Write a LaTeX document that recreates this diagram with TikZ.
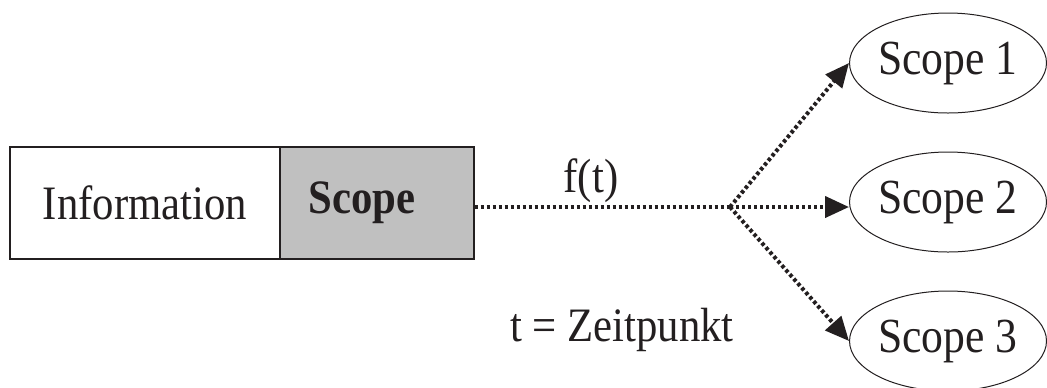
\documentclass[tikz,border=0pt]{standalone}
\usepackage{fontspec}
\setmainfont{Liberation Serif}[FakeStretch=0.89]
\usetikzlibrary{arrows.meta,shapes.geometric}
\definecolor{zpink}{HTML}{231F20}
\definecolor{zppage}{HTML}{FFFFFF}
\definecolor{zpscopefill}{HTML}{C0C0C0}
\tikzset{
  zpblock/.style={
    draw=zpink,
    line width=0.6pt,
    minimum height=56pt,
    inner sep=0pt,
    font=\fontsize{24}{28}\selectfont,
    text=zpink
  },
  zpinfo/.style={
    zpblock,
    fill=zppage,
    minimum width=135pt
  },
  zpscope/.style={
    zpblock,
    fill=zpscopefill,
    minimum width=97pt,
    font=\fontsize{24}{28}\selectfont\bfseries
  },
  zptarget/.style={
    ellipse,
    draw=zpink,
    line width=0.5pt,
    fill=zppage,
    minimum width=98pt,
    minimum height=50pt,
    inner sep=0pt,
    font=\fontsize{24.5}{28}\selectfont,
    text=zpink
  },
  zpedge/.style={
    line width=2pt,
    color=zpink,
    dash pattern=on 1.7pt off 1.3pt
  },
  zparrow/.style={
    zpedge,
    -{Triangle[length=12pt,width=10.5pt]}
  },
  zplabel/.style={
    font=\fontsize{24}{28}\selectfont,
    text=zpink
  }
}
\begin{document}
\begin{tikzpicture}[x=0.5pt,y=-0.5pt]
  \useasboundingbox (0,0) rectangle (1047,387);

  \node[zpinfo] (info) at (145,203) {Information};
  \node[zpscope] (scope) at (377,203) {\hspace*{-15pt}Scope};

  \node[zptarget] (scopea) at (948,63) {Scope 1};
  \node[zptarget] (scopeb) at (948,202) {Scope 2};
  \node[zptarget] (scopec) at (948,341) {Scope 3};

  \coordinate (split) at (730,207);

  \node[zplabel] (ft) at (591,181) {f(t)};
  \node[zplabel] (zeit) at (622,330) {t = Zeitpunkt};

  \draw[zpedge] (scope.east |- split) -- (split);
  \draw[zparrow] (split) -- (scopea.west);
  \draw[zparrow] (split) -- (scopeb.west |- split);
  \draw[zparrow] (split) -- (scopec.west);
\end{tikzpicture}
\end{document}
